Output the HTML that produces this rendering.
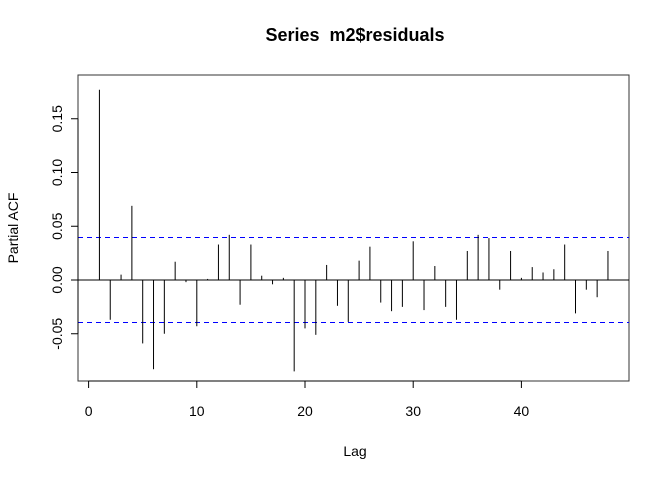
<!DOCTYPE html>
<html><head><meta charset="utf-8"><style>body{margin:0;background:#fff}svg{display:block;font-family:"Liberation Sans",Arial,sans-serif}</style></head>
<body>
<svg id="chart" width="672" height="480" viewBox="0 0 672 480">
<text x="355" y="41" text-anchor="middle" font-size="18" font-weight="bold" style="white-space:pre" xml:space="preserve">Series  m2$residuals</text>
<text x="355" y="456" text-anchor="middle" font-size="14">Lag</text>
<text transform="translate(18,228) rotate(-90)" text-anchor="middle" font-size="14">Partial ACF</text>
<rect x="78" y="75" width="551" height="306" fill="none" stroke="#333" stroke-width="1"/>
<g id="marks"></g>
</svg>
<script>
const lags=[1,2,3,4,5,6,7,8,9,10,11,12,13,14,15,16,17,18,19,20,21,22,23,24,25,26,27,28,29,30,31,32,33,34,35,36,37,38,39,40,41,42,43,44,45,46,47,48];
const pacf=[0.177,-0.037,0.005,0.069,-0.059,-0.083,-0.050,0.017,-0.002,-0.043,0.001,0.033,0.042,-0.023,0.033,0.004,-0.004,0.002,-0.085,-0.045,-0.051,0.014,-0.024,-0.039,0.018,0.031,-0.021,-0.029,-0.025,0.036,-0.028,0.013,-0.025,-0.037,0.027,0.042,0.039,-0.009,0.027,0.002,0.012,0.007,0.010,0.033,-0.031,-0.009,-0.016,0.027];
const ci=[0.0395,-0.0395];
const xTicks=[0,10,20,30,40];
const yTicks=[-0.05,0,0.05,0.10,0.15];
const yTickLabels=["-0.05","0.00","0.05","0.10","0.15"];
const NS='http://www.w3.org/2000/svg';
const g=document.getElementById('marks');
const X=v=>88.6+v*10.82, Y=v=>280-v*1075;
function mk(t,a,p){const e=document.createElementNS(NS,t);for(const k in a)e.setAttribute(k,a[k]);(p||g).appendChild(e);return e;}
let z=mk('line',{x1:78,x2:629,y1:Y(0),y2:Y(0),stroke:'#000','stroke-width':1});


ci.forEach(c=>{const l=mk('line',{x1:78,x2:629,y1:Y(c),y2:Y(c),stroke:'#0000ff','stroke-width':1,'stroke-dasharray':'5,4'});

});
lags.forEach((k,i)=>{const l=mk('line',{x1:X(k),x2:X(k),y1:Y(0),y2:Y(pacf[i]),stroke:'#000','stroke-width':1});

});
let xa=mk('line',{x1:X(xTicks[0]),x2:X(xTicks[xTicks.length-1]),y1:381,y2:381,stroke:'#000'});


xTicks.forEach(t=>{mk('line',{x1:X(t),x2:X(t),y1:381,y2:388,stroke:'#000'});
const tx=mk('text',{x:X(t),y:416,'text-anchor':'middle','font-size':14});tx.textContent=t;

});
let ya=mk('line',{x1:78,x2:78,y1:Y(yTicks[0]),y2:Y(yTicks[yTicks.length-1]),stroke:'#000'});


yTicks.forEach((t,i)=>{mk('line',{x1:71,x2:78,y1:Y(t),y2:Y(t),stroke:'#000'});
const tx=mk('text',{transform:`translate(62,${Y(t)}) rotate(-90)`,'text-anchor':'middle','font-size':14});tx.textContent=yTickLabels[i];

});
</script>
</body></html>
